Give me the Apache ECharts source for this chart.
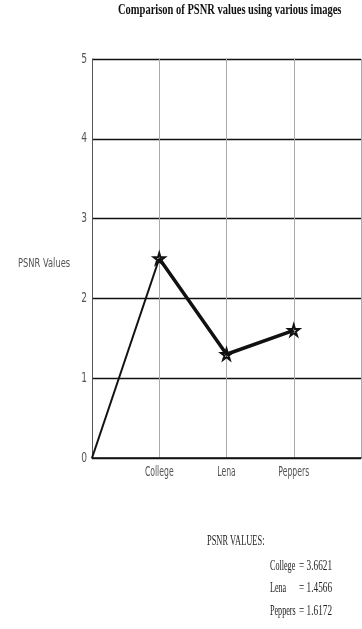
<!DOCTYPE html>
<html>
<head>
<meta charset="utf-8">
<script src="https://cdn.jsdelivr.net/npm/echarts@6/dist/echarts.min.js"></script>
<style>html,body{margin:0;padding:0;background:#fff}#c{width:362px;height:629px}</style>
</head>
<body>
<div id="c"></div>
<script>
var categories = ['', 'College', 'Lena', 'Peppers', ''];
var psnrValues = [0, 2.5, 1.3, 1.6, null];
var yTicks = [0, 1, 2, 3, 4, 5];
var noteNames = ['College', 'Lena', 'Peppers'];
var noteValues = ['3.6621', '1.4566', '1.6172'];
var titleText = 'Comparison of PSNR values using various images';
var yName = 'PSNR Values';
var noteTitle = 'PSNR VALUES:';

var sans = '"DejaVu Sans","Liberation Sans",sans-serif';
var serif = '"Liberation Serif","DejaVu Serif",serif';

var thin = psnrValues.map(function (v, i) { return i <= 1 ? v : null; });
var thick = psnrValues.map(function (v, i) { return i >= 1 ? v : null; });
var star = 'path://M50,0 L61,35 L98,35 L68,57 L79,91 L50,70 L21,91 L32,57 L2,35 L39,35 Z';

var chart = echarts.init(document.getElementById('c'), null, {renderer: 'canvas'});

chart.setOption({
  animation: false,
  backgroundColor: '#fff',
  grid: {left: 92, right: 1, top: 59, bottom: 171, containLabel: false},
  xAxis: {
    type: 'category', data: categories, boundaryGap: false,
    axisLine: {lineStyle: {color: '#111', width: 1.5}},
    axisTick: {show: false},
    axisLabel: {show: false},
    splitLine: {show: true, lineStyle: {color: '#aaa', width: 1}}
  },
  yAxis: {
    type: 'value', min: yTicks[0], max: yTicks[yTicks.length - 1], interval: 1,
    axisLine: {show: true, lineStyle: {color: '#555', width: 1}},
    axisTick: {show: false},
    axisLabel: {show: false},
    splitLine: {show: true, lineStyle: {color: '#111', width: 1.3}}
  },
  series: [
    {type: 'line', data: thin, showSymbol: false, symbol: 'none', lineStyle: {color: '#111', width: 2}, z: 2},
    {type: 'line', data: thick, symbol: star, symbolSize: 11, showSymbol: true,
      itemStyle: {color: 'rgba(255,255,255,0)', borderColor: '#111', borderWidth: 2},
      lineStyle: {color: '#111', width: 3.5}, z: 3}
  ]
});

var graphics = [
  {type: 'text', x: 118, y: 3, scaleX: 0.7, style: {text: titleText, font: 'bold 15px ' + serif, fill: '#111'}},
  {type: 'text', x: 18, y: 264, scaleX: 0.64, style: {text: yName, font: '13px ' + sans, fill: '#555', verticalAlign: 'middle'}},
  {type: 'text', x: 207, y: 541, scaleX: 0.6, style: {text: noteTitle, font: '14px ' + serif, fill: '#222', verticalAlign: 'middle'}}
];
noteNames.forEach(function (n, i) {
  var y = 566 + i * 22.5;
  graphics.push({type: 'text', x: 270, y: y, scaleX: 0.58, style: {text: n, font: '14px ' + serif, fill: '#222', verticalAlign: 'middle'}});
  graphics.push({type: 'text', x: 332, y: y, scaleX: 0.66, style: {text: '= ' + noteValues[i], font: '14px ' + serif, fill: '#222', align: 'right', verticalAlign: 'middle'}});
});
categories.forEach(function (c, i) {
  if (!c) return;
  var p = chart.convertToPixel({xAxisIndex: 0}, i);
  graphics.push({type: 'text', x: p, y: 472, scaleX: 0.55,
    style: {text: c, font: '14px ' + sans, fill: '#555', align: 'center', verticalAlign: 'middle'}});
});
yTicks.forEach(function (t) {
  var py = chart.convertToPixel({yAxisIndex: 0}, t);
  graphics.push({type: 'text', x: 87, y: py, scaleX: 0.65,
    style: {text: String(t), font: '14px ' + sans, fill: '#555', align: 'right', verticalAlign: 'middle'}});
});
chart.setOption({graphic: graphics});
</script>
</body>
</html>
